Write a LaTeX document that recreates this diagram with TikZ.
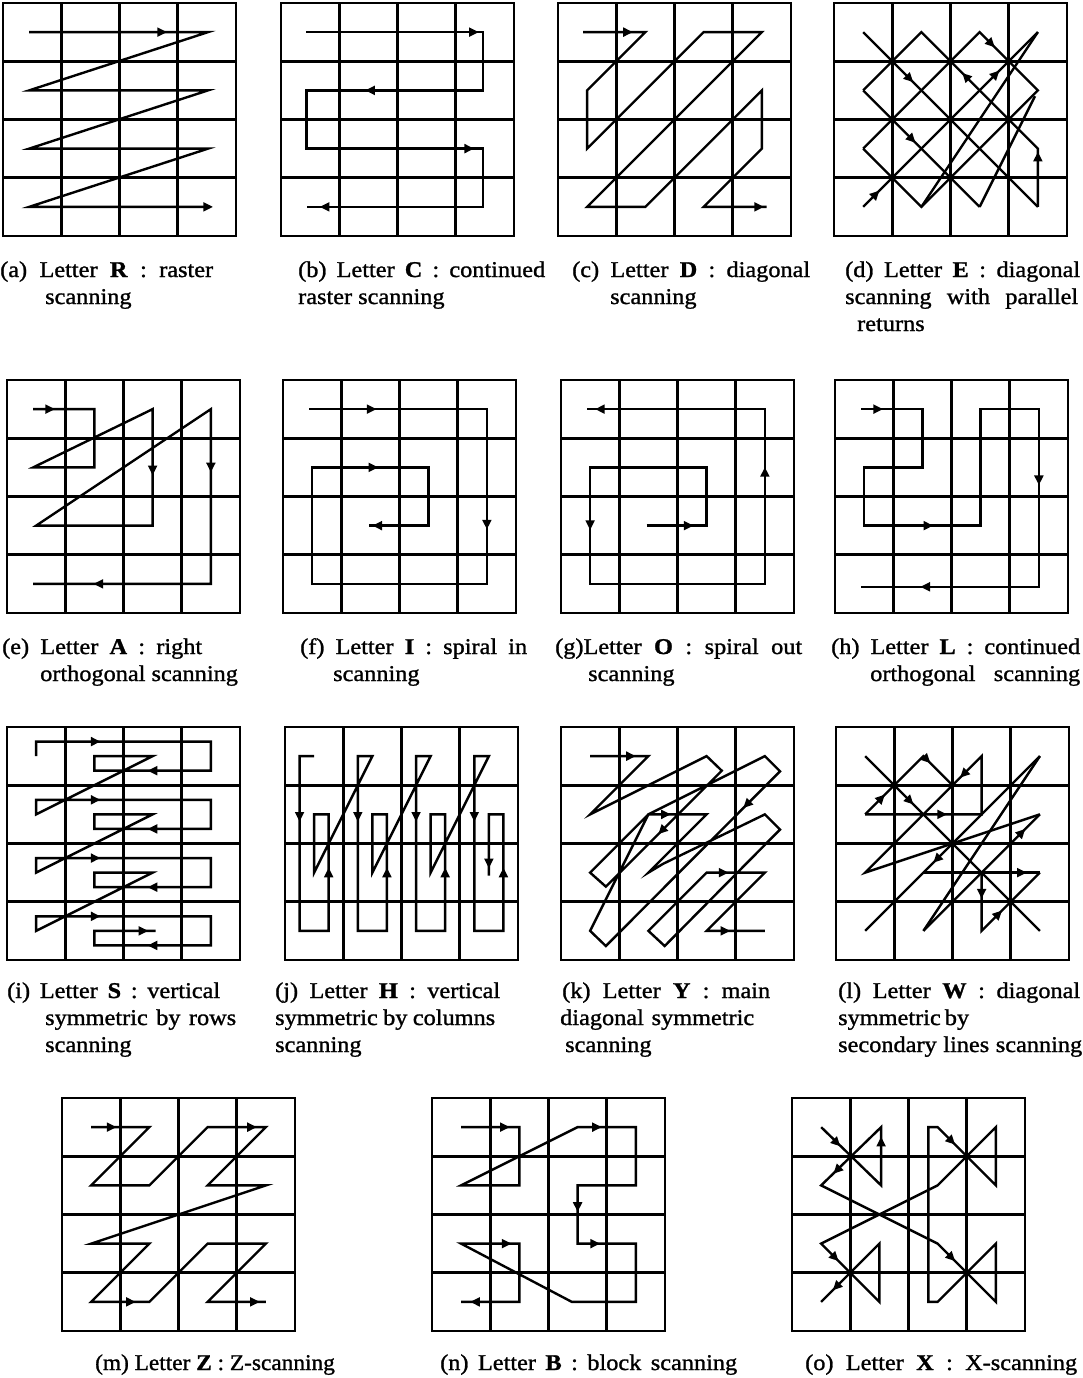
\documentclass[tikz,border=0pt]{standalone}
\usepackage{fontspec}
\setmainfont{Liberation Serif}[FakeStretch=1.08,FakeBold=1.2]
\newcommand\sar[2]{\fill[shift={#1},rotate=#2] (4.7pt,0pt) -- (-4.7pt,4.8pt) -- (-4.7pt,-4.8pt) -- cycle;}
\newcommand\gridlines{\draw[gridline] (0,0) rectangle (4,4);
  \foreach \t in {1,2,3}{\draw[gridline] (\t,0) -- (\t,4) (0,\t) -- (4,\t);}}
\begin{document}
\begin{tikzpicture}[x=1pt,y=-1pt,
  gridline/.style={line width=2.9pt},
  scan/.style={line width=2.4pt},
  cell/.style={x=58.25pt,y=-58.25pt},
  captext/.style={anchor=base west, inner sep=0pt, font=\fontsize{22.5}{27}\selectfont}]
\useasboundingbox (0,0) rectangle (1082,1378);
\fill[white] (0,0) rectangle (1082,1378);
% (a)
\begin{scope}[shift={(3,3)},cell]
\gridlines
\draw[scan] (0.45,0.5) -- (3.52,0.5) -- (0.45,1.5) -- (3.52,1.5) -- (0.45,2.5) -- (3.52,2.5) -- (0.45,3.5) -- (3.55,3.5);
\sar{(2.73,0.5)}{0} \sar{(3.52,3.5)}{0}
\end{scope}
% (b)
\begin{scope}[shift={(281,3)},cell]
\gridlines
\draw[scan] (0.43,0.5) -- (3.47,0.5) -- (3.47,1.5) -- (0.44,1.5) -- (0.44,2.5) -- (3.47,2.5) -- (3.47,3.5) -- (0.45,3.5);
\sar{(3.31,0.5)}{0} \sar{(1.53,1.5)}{180} \sar{(3.23,2.5)}{0} \sar{(0.75,3.5)}{180}
\end{scope}
% (c)
\begin{scope}[shift={(558,3)},cell]
\gridlines
\draw[scan] (0.43,0.5) -- (1.5,0.5) -- (0.5,1.5) -- (0.5,2.5) -- (2.5,0.5) -- (3.5,0.5) -- (0.5,3.5) -- (1.5,3.5) -- (3.5,1.5) -- (3.5,2.5) -- (2.5,3.5) -- (3.58,3.5);
\sar{(1.2,0.5)}{0} \sar{(3.45,3.5)}{0}
\end{scope}
% (d)
\begin{scope}[shift={(834,3)},cell]
\gridlines
\draw[scan] (0.5,0.5) -- (3.5,3.5);
\draw[scan] (0.5,3.5) -- (3.5,0.5);
\draw[scan] (0.5,1.5) -- (1.5,0.5) -- (3.5,2.5) -- (3.5,3.5);
\draw[scan] (0.5,2.5) -- (2.5,0.5) -- (3.5,1.5) -- (1.5,3.5) -- (0.5,2.5);
\draw[scan] (0.5,1.5) -- (2.5,3.5);
\draw[scan] (1.5,3.5) -- (3.5,0.5);
\draw[scan] (2.5,3.5) -- (3.45,1.6);
\sar{(1.3,1.3)}{-45} \sar{(2.26,1.26)}{135} \sar{(2.7,0.7)}{-45} \sar{(2.78,1.22)}{45}
\sar{(1.34,2.34)}{-45} \sar{(0.72,3.28)}{45} \sar{(3.5,2.64)}{90}
\end{scope}
% (e)
\begin{scope}[shift={(7,380)},cell]
\gridlines
\draw[scan] (0.45,0.5) -- (1.5,0.5) -- (1.5,1.5) -- (0.45,1.5) -- (2.5,0.5) -- (2.5,2.5) -- (0.5,2.5) -- (3.5,0.5) -- (3.5,3.5) -- (0.45,3.5);
\sar{(0.74,0.5)}{0} \sar{(2.5,1.55)}{-90} \sar{(3.5,1.5)}{-90} \sar{(1.57,3.5)}{180}
\end{scope}
% (f)
\begin{scope}[shift={(283,380)},cell]
\gridlines
\draw[scan] (0.45,0.5) -- (3.5,0.5) -- (3.5,3.5) -- (0.5,3.5) -- (0.5,1.5) -- (2.5,1.5) -- (2.5,2.5) -- (1.48,2.5);
\sar{(1.52,0.5)}{0} \sar{(3.5,2.48)}{-90} \sar{(1.55,1.5)}{0} \sar{(1.62,2.5)}{180}
\end{scope}
% (g)
\begin{scope}[shift={(561,380)},cell]
\gridlines
\draw[scan] (1.47,2.5) -- (2.5,2.5) -- (2.5,1.5) -- (0.5,1.5) -- (0.5,3.5) -- (3.5,3.5) -- (3.5,0.5) -- (0.44,0.5);
\sar{(2.19,2.5)}{0} \sar{(0.5,2.49)}{-90} \sar{(3.5,1.58)}{90} \sar{(0.67,0.5)}{180}
\end{scope}
% (h)
\begin{scope}[shift={(835,380)},cell]
\gridlines
\draw[scan] (0.45,0.5) -- (1.5,0.5) -- (1.5,1.5) -- (0.5,1.5) -- (0.5,2.5) -- (2.5,2.5) -- (2.5,0.5) -- (3.5,0.5) -- (3.5,3.55) -- (0.45,3.55);
\sar{(0.74,0.5)}{0} \sar{(1.6,2.5)}{0} \sar{(3.5,1.72)}{-90} \sar{(1.55,3.55)}{180}
\end{scope}
% (i)
\begin{scope}[shift={(7,727)},cell]
\gridlines
\draw[scan] (0.5,0.5) -- (0.5,0.25) -- (3.5,0.25) -- (3.5,0.75) -- (1.5,0.75) -- (1.5,0.5) -- (2.5,0.5)
 -- (0.5,1.5) -- (0.5,1.25) -- (3.5,1.25) -- (3.5,1.75) -- (1.5,1.75) -- (1.5,1.5) -- (2.5,1.5)
 -- (0.5,2.5) -- (0.5,2.25) -- (3.5,2.25) -- (3.5,2.75) -- (1.5,2.75) -- (1.5,2.5) -- (2.5,2.5)
 -- (0.5,3.5) -- (0.5,3.25) -- (3.5,3.25) -- (3.5,3.75) -- (1.5,3.75) -- (1.5,3.5) -- (2.55,3.5);
\foreach \k in {0,1,2,3}{\sar{(1.52,\k+0.25)}{0} \sar{(2.5,\k+0.75)}{180}}
\sar{(2.34,3.5)}{0}
\end{scope}
% (j)
\begin{scope}[shift={(285,727)},cell]
\gridlines
\draw[scan] (0.5,0.5) -- (0.25,0.5) -- (0.25,3.5) -- (0.75,3.5) -- (0.75,1.5) -- (0.5,1.5) -- (0.5,2.5)
 -- (1.5,0.5) -- (1.25,0.5) -- (1.25,3.5) -- (1.75,3.5) -- (1.75,1.5) -- (1.5,1.5) -- (1.5,2.5)
 -- (2.5,0.5) -- (2.25,0.5) -- (2.25,3.5) -- (2.75,3.5) -- (2.75,1.5) -- (2.5,1.5) -- (2.5,2.5)
 -- (3.5,0.5) -- (3.25,0.5) -- (3.25,3.5) -- (3.75,3.5) -- (3.75,1.5) -- (3.5,1.5) -- (3.5,2.55);
\foreach \k in {0,1,2,3}{\sar{(\k+0.25,1.54)}{-90} \sar{(\k+0.75,2.5)}{90}}
\sar{(3.5,2.34)}{-90}
\end{scope}
% (k)
\begin{scope}[shift={(561,727)},cell]
\gridlines
\draw[scan] (0.5,0.5) -- (1.5,0.5) -- (0.5,1.5) -- (2.5,0.5) -- (2.76,0.75) -- (0.77,2.74) -- (0.5,2.5) -- (1.5,1.5) -- (3.5,0.5) -- (3.76,0.76) -- (0.77,3.76) -- (0.5,3.5) -- (1.5,1.5) -- (2.5,1.5) -- (1.5,2.5) -- (1.75,2.35) -- (3.5,1.5) -- (3.76,1.76) -- (1.78,3.76) -- (1.5,3.5) -- (2.5,2.5) -- (3.5,2.5) -- (2.5,3.5) -- (3.5,3.5);
\sar{(1.2,0.5)}{0} \sar{(1.8,1.5)}{0} \sar{(1.73,1.78)}{-135} \sar{(3.19,1.33)}{-135} \sar{(2.79,2.5)}{0} \sar{(2.82,3.5)}{0}
\end{scope}
% (l)
\begin{scope}[shift={(836,727)},cell]
\gridlines
\draw[scan] (0.5,0.5) -- (3.5,3.5);
\draw[scan] (3.5,0.5) -- (0.5,3.5);
\draw[scan] (0.5,1.5) -- (1.5,0.5) -- (2,1);
\draw[scan] (0.5,1.5) -- (2.5,1.5) -- (2.5,0.5) -- (0.5,2.5) -- (3.5,1.5);
\draw[scan] (1.5,2.5) -- (3.5,2.5);
\draw[scan] (2.5,2.5) -- (2.5,3.5) -- (3.5,2.5);
\draw[scan] (1.5,3.5) -- (3.5,1.5);
\draw[scan] (1.5,3.5) -- (3.5,0.5);
\sar{(1.27,1.27)}{-45} \sar{(1.73,2.27)}{-135} \sar{(0.78,1.22)}{45} \sar{(1.56,0.56)}{-45}
\sar{(1.82,1.5)}{0} \sar{(2.19,0.81)}{-135} \sar{(3.19,1.81)}{45} \sar{(3.19,2.5)}{0}
\sar{(2.5,2.86)}{-90} \sar{(2.79,3.21)}{45}
\end{scope}
% (m)
\begin{scope}[shift={(62,1098)},cell]
\gridlines
\draw[scan] (0.5,0.5) -- (1.5,0.5) -- (0.5,1.5) -- (1.5,1.5) -- (2.5,0.5) -- (3.5,0.5) -- (2.5,1.5) -- (3.5,1.5) -- (0.5,2.5) -- (1.5,2.5) -- (0.5,3.5) -- (1.5,3.5) -- (2.5,2.5) -- (3.5,2.5) -- (2.5,3.5) -- (3.5,3.5);
\sar{(0.85,0.5)}{0} \sar{(3.26,0.5)}{0} \sar{(1.18,3.5)}{0} \sar{(3.31,3.5)}{0}
\end{scope}
% (n)
\begin{scope}[shift={(432,1098)},cell]
\gridlines
\draw[scan] (0.5,0.5) -- (1.5,0.5) -- (1.5,1.5) -- (0.5,1.5) -- (2.5,0.5) -- (3.5,0.5) -- (3.5,1.5) -- (2.5,1.5) -- (2.5,2.5) -- (3.5,2.5) -- (3.5,3.5) -- (2.4,3.5) -- (0.5,2.5) -- (1.5,2.5) -- (1.5,3.5) -- (0.5,3.5);
\sar{(1.25,0.5)}{0} \sar{(2.83,0.5)}{0} \sar{(2.5,1.87)}{-90} \sar{(2.8,2.5)}{0} \sar{(1.28,2.5)}{0} \sar{(0.74,3.5)}{180}
\end{scope}
% (o)
\begin{scope}[shift={(792,1098)},cell]
\gridlines
\draw[scan] (0.5,0.5) -- (1.53,1.5) -- (1.53,0.5) -- (0.5,1.5) -- (2.5,2.5) -- (3.5,3.5) -- (3.5,2.5) -- (2.6,3.4) -- (2.5,3.5) -- (2.34,3.5) -- (2.34,0.5) -- (2.5,0.5) -- (3.5,1.5) -- (3.5,0.5) -- (2.5,1.5) -- (0.5,2.5) -- (1.5,3.5) -- (1.5,2.5) -- (0.5,3.5);
\sar{(0.77,0.77)}{-45} \sar{(1.53,0.75)}{90} \sar{(0.77,1.24)}{-135} \sar{(2.74,0.74)}{-45} \sar{(2.74,2.74)}{-45} \sar{(0.74,2.74)}{-45} \sar{(0.76,3.24)}{-135}
\end{scope}
% captions
\node[captext] (ca1) at (0,277) {\makebox[213pt][s]{(a) Letter \textbf{R} : raster}};
\node[captext] (ca2) at (45,304) {scanning};
\node[captext] (cb1) at (298,277) {\makebox[247pt][s]{(b) Letter \textbf{C} : continued}};
\node[captext] (cb2) at (298,304) {raster scanning};
\node[captext] (cc1) at (572,277) {\makebox[238pt][s]{(c) Letter \textbf{D} : diagonal}};
\node[captext] (cc2) at (610,304) {scanning};
\node[captext] (cd1) at (845,277) {\makebox[235pt][s]{(d) Letter \textbf{E} : diagonal}};
\node[captext] (cd2) at (845,304) {\makebox[233pt][s]{scanning with parallel}};
\node[captext] (cd3) at (857,331) {returns};
\node[captext] (ce1) at (2,654) {\makebox[200pt][s]{(e) Letter \textbf{A} : right}};
\node[captext] (ce2) at (40,681) {orthogonal scanning};
\node[captext] (cf1) at (300,654) {\makebox[227pt][s]{(f) Letter \textbf{I} : spiral in}};
\node[captext] (cf2) at (333,681) {scanning};
\node[captext] (cg1) at (555,654) {\makebox[247pt][s]{(g)Letter \textbf{O} : spiral out}};
\node[captext] (cg2) at (588,681) {scanning};
\node[captext] (ch1) at (831,654) {\makebox[249pt][s]{(h) Letter \textbf{L} : continued}};
\node[captext] (ch2) at (870,681) {\makebox[210pt][s]{orthogonal scanning}};
\node[captext] (ci1) at (7,998) {\makebox[213pt][s]{(i) Letter \textbf{S} : vertical}};
\node[captext] (ci2) at (45,1025) {\makebox[191pt][s]{symmetric by rows}};
\node[captext] (ci3) at (45,1052) {scanning};
\node[captext] (cj1) at (275,998) {\makebox[225pt][s]{(j) Letter \textbf{H} : vertical}};
\node[captext] (cj2) at (275,1025) {\makebox[220pt][s]{symmetric by columns}};
\node[captext] (cj3) at (275,1052) {scanning};
\node[captext] (ck1) at (562,998) {\makebox[208pt][s]{(k) Letter \textbf{Y} : main}};
\node[captext] (ck2) at (560,1025) {\makebox[194pt][s]{diagonal symmetric}};
\node[captext] (ck3) at (565,1052) {scanning};
\node[captext] (cl1) at (838,998) {\makebox[242pt][s]{(l) Letter \textbf{W} : diagonal}};
\node[captext] (cl2) at (838,1025) {\makebox[122pt][s]{symmetric by}};
\node[captext] (cl3) at (838,1052) {\makebox[244pt][s]{secondary lines scanning}};
\node[captext] (cm1) at (95,1370) {\scalebox{0.96}[1]{(m) Letter \textbf{Z} : Z-scanning}};
\node[captext] (cn1) at (440,1370) {\makebox[297pt][s]{(n) Letter \textbf{B} : block scanning}};
\node[captext] (co1) at (805,1370) {\makebox[272pt][s]{(o) Letter \textbf{X} : X-scanning}};
\end{tikzpicture}
\end{document}
